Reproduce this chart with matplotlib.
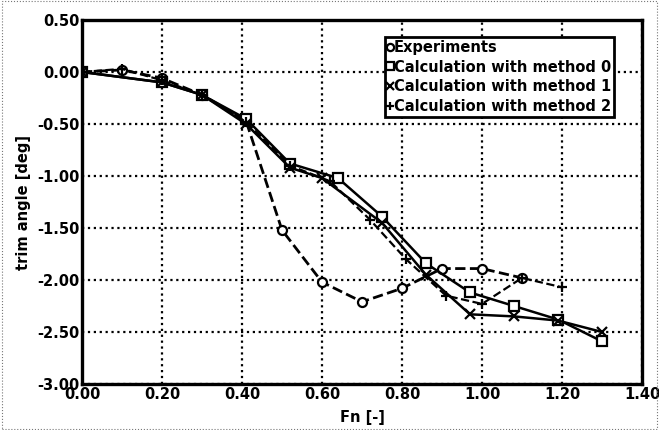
import matplotlib
matplotlib.use("Agg")
import matplotlib.pyplot as plt
from matplotlib.patches import Rectangle

exp_x = [0.0, 0.1, 0.2, 0.3, 0.41, 0.5, 0.6, 0.7, 0.8, 0.9, 1.0, 1.1]
exp_y = [0.0, 0.02, -0.06, -0.22, -0.47, -1.52, -2.02, -2.21, -2.08, -1.89, -1.89, -1.98]

m0_x = [0.0, 0.2, 0.3, 0.41, 0.52, 0.64, 0.75, 0.86, 0.97, 1.08, 1.19, 1.3]
m0_y = [0.0, -0.10, -0.22, -0.45, -0.88, -1.02, -1.39, -1.84, -2.12, -2.25, -2.38, -2.59]

m1_x = [0.0, 0.2, 0.3, 0.41, 0.52, 0.6, 0.75, 0.86, 0.97, 1.08, 1.19, 1.3]
m1_y = [0.0, -0.10, -0.22, -0.50, -0.92, -1.02, -1.45, -1.95, -2.33, -2.35, -2.39, -2.50]

m2_x = [0.0, 0.1, 0.2, 0.3, 0.41, 0.52, 0.62, 0.72, 0.81, 0.91, 1.0, 1.1, 1.2]
m2_y = [0.0, 0.03, -0.08, -0.22, -0.48, -0.90, -1.05, -1.42, -1.80, -2.15, -2.23, -1.98, -2.07]

labels = ["Experiments", "Calculation with method 0",
          "Calculation with method 1", "Calculation with method 2"]
x_ticks = [0.0, 0.2, 0.4, 0.6, 0.8, 1.0, 1.2, 1.4]
y_ticks = [0.5, 0.0, -0.5, -1.0, -1.5, -2.0, -2.5, -3.0]

plt.rcParams['font.family'] = ['DejaVu Sans']
plt.rcParams['font.weight'] = 'bold'

fig = plt.figure(figsize=(6.59, 4.30), dpi=100)
ax = fig.add_axes([82/659, 1 - 384/430, (642-82)/659, (384-20)/430])

mk = dict(markersize=6.5, markerfacecolor='white', markeredgecolor='black', markeredgewidth=1.6)
ax.plot(exp_x, exp_y, '--', color='black', lw=2.0, marker='o', label=labels[0], **mk)
ax.plot(m0_x, m0_y, '-', color='black', lw=1.8, marker='s', label=labels[1], **mk)
ax.plot(m1_x, m1_y, '-', color='black', lw=1.8, marker='x', label=labels[2], **mk)
ax.plot(m2_x, m2_y, '--', color='black', lw=1.6, marker='+', label=labels[3], **mk)

ax.set_xlim(0, 1.4)
ax.set_ylim(-3.0, 0.5)
ax.set_xticks(x_ticks)
ax.set_yticks(y_ticks)
ax.set_xticklabels([f"{v:.2f}" for v in x_ticks], fontsize=10.5, fontweight='bold')
ax.set_yticklabels([f"{v:.2f}" for v in y_ticks], fontsize=10.5, fontweight='bold')
ax.tick_params(length=0, pad=2)
ax.grid(True, color='black', linestyle=':', linewidth=1.6)
for s in ax.spines.values():
    s.set_linewidth(2.4)

ax.set_xlabel("Fn [-]", fontsize=10.5, fontweight='bold', labelpad=6)
ax.set_ylabel("trim angle [deg]", fontsize=10.5, fontweight='bold', labelpad=4)

leg = ax.legend(loc='upper left', bbox_to_anchor=((385-82)/560, 1 - (37-20)/364),
                frameon=True, fancybox=False, handlelength=0.3, handletextpad=0.1,
                borderpad=0.2, labelspacing=0.32, borderaxespad=0, markerscale=0.8,
                prop={'weight': 'bold', 'size': 10.5})
leg.get_frame().set_edgecolor('black')
leg.get_frame().set_linewidth(2.0)
leg.get_frame().set_alpha(1)
for h in leg.legend_handles:
    h.set_linestyle('None')

fig.patches.append(Rectangle((0.003, 0.003), 0.994, 0.994, transform=fig.transFigure,
                             fill=False, edgecolor='#777777', linestyle=':', linewidth=0.8))

fig.savefig("out.png", dpi=100)
